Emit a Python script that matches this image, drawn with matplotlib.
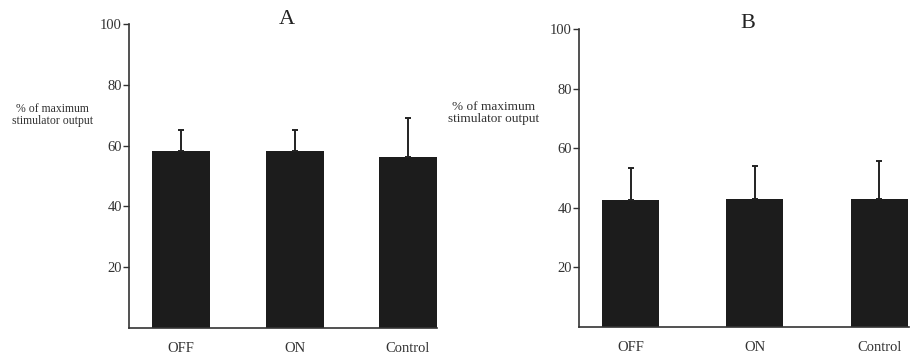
import numpy as np
import matplotlib
matplotlib.use("Agg")
import matplotlib.pyplot as plt

plt.rcParams['font.family'] = ['Liberation Serif', 'DejaVu Serif']

categories = ["OFF", "ON", "Control"]
means_a = [58.2, 58.2, 56.2]
sd_a = [6.9, 6.9, 12.9]
means_b = [42.6, 42.9, 42.9]
sd_b = [10.6, 11.1, 12.8]
yticks = [20, 40, 60, 80, 100]
ylabel = "% of maximum\nstimulator output"

fig = plt.figure(figsize=(9.10, 3.56), dpi=100)

panels = [
    # title, means, sd, axes rect, xlim, bar width, label pos, label size, title pos
    ("A", means_a, sd_a, [0.1418, 0.0787, 0.3384, 0.8539], (-0.46, 2.255), 0.51,
     (0.058, 0.677), 8.5, (0.315, 0.944)),
    ("B", means_b, sd_b, [0.6363, 0.0823, 0.3626, 0.8362], (-0.415, 2.24), 0.46,
     (0.542, 0.683), 9.5, (0.822, 0.933)),
]

for title, means, sd, rect, xlim, width, lab_pos, lab_size, t_pos in panels:
    ax = fig.add_axes(rect)
    x = np.arange(len(categories))
    ax.bar(x, means, width=width, color="#1c1c1c", zorder=2)
    ax.errorbar(x, means, yerr=[np.zeros(len(sd)), sd], fmt="none",
                ecolor="#222222", elinewidth=1.4, capsize=2.5, capthick=1.4, zorder=3)
    ax.set_xlim(*xlim)
    ax.set_ylim(0, 100)
    ax.set_yticks(yticks)
    ax.set_yticklabels([str(t) for t in yticks], fontsize=10.5, color="#333333")
    ax.set_xticks(x)
    ax.set_xticklabels(categories, fontsize=10.5, color="#333333")
    ax.tick_params(axis="x", length=0, pad=10)
    ax.tick_params(axis="y", direction="out", length=4, width=1.0, pad=1, color="#333333")
    for s in ["top", "right"]:
        ax.spines[s].set_visible(False)
    for s in ["left", "bottom"]:
        ax.spines[s].set_linewidth(1.2)
        ax.spines[s].set_color("#333333")
    fig.text(t_pos[0], t_pos[1], title, ha="center", va="center",
             fontsize=16, color="#222222")
    fig.text(lab_pos[0], lab_pos[1], ylabel, ha="center", va="center",
             fontsize=lab_size, color="#333333", linespacing=0.95)

fig.savefig("out.png", dpi=100)
